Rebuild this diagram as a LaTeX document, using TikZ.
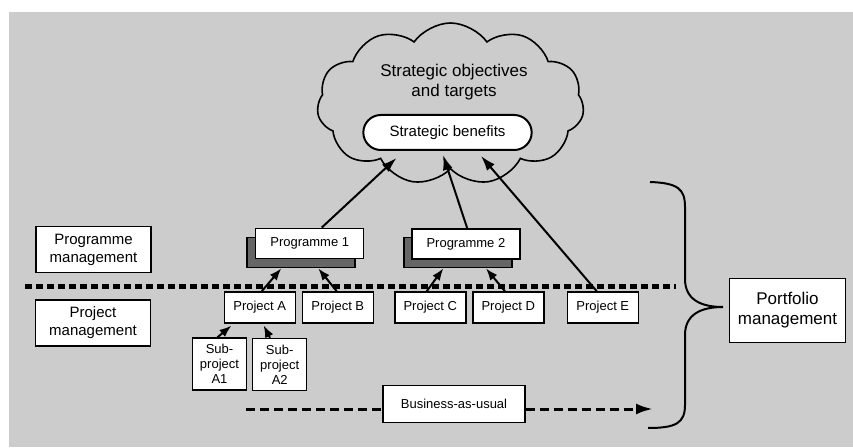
\documentclass[tikz,border=0pt]{standalone}
\usepackage{fontspec}
\setmainfont{Liberation Sans}
\usetikzlibrary{calc,shapes.symbols,shapes.misc,arrows.meta}

\definecolor{bggray}{HTML}{CCCCCC}
\definecolor{shadowgray}{HTML}{666666}

\tikzset{
  box/.style={draw,fill=white,line width=1.4pt,font=\fontsize{13}{15}\selectfont,align=center,inner sep=0pt},
  projbox/.style={box,minimum width=71pt,minimum height=31pt},
  progbox/.style={box,minimum width=108pt,minimum height=30pt},
  shadowbox/.style={draw,fill=shadowgray,line width=1.8pt,minimum width=108pt,minimum height=30pt,inner sep=0pt},
  subbox/.style={box,minimum width=54pt,minimum height=52pt},
  mgmtbox/.style={box,font=\fontsize{15}{18}\selectfont,minimum width=115pt,minimum height=46pt},
  link/.style={line width=2pt,-{Latex[length=12pt,width=9pt]}},
  goal/.style={line width=2pt,-{Latex[length=15pt,width=10pt]}},
  flow/.style={line width=3pt,dash pattern=on 9pt off 5pt},
}

\begin{document}
\begin{tikzpicture}[x=1pt,y=1pt]
  \useasboundingbox (0,0) rectangle (853,447);
  \fill[bggray] (9,0) rectangle (853,435);

  \node[draw,cloud,cloud puffs=11,cloud puff arc=110,minimum width=267pt,minimum height=162pt,line width=1.6pt] (cloud) at (450.5,343) {};
  \node[font=\fontsize{17}{20}\selectfont,align=center] (objectives) at (454,365) {Strategic objectives\\and targets};
  \node[draw,fill=white,rounded rectangle,line width=2pt,minimum width=175pt,minimum height=35pt,font=\fontsize{15}{18}\selectfont] (benefits) at (447.5,314.5) {Strategic benefits};

  \coordinate (divleft) at (25,160);
  \coordinate (divright) at (676,160);
  \draw[line width=5pt,dash pattern=on 7pt off 4pt] (divleft) -- (divright);

  \node[mgmtbox] (progmgmt) at (93.5,197.5) {Programme\\management};
  \node[mgmtbox] (projmgmt) at (93,124) {Project\\management};

  \node[shadowbox] (prog1shadow) at (301.3,194.5) {};
  \node[progbox] (prog1) at (309.7,203.7) {Programme 1};
  \node[shadowbox] (prog2shadow) at (458,194.5) {};
  \node[progbox] (prog2) at (465.9,202.8) {Programme 2};

  \node[projbox] (projA) at (259.7,139.5) {Project A};
  \node[projbox] (projB) at (337.8,139.5) {Project B};
  \node[projbox] (projC) at (430.3,139.5) {Project C};
  \node[projbox] (projD) at (508.3,139.5) {Project D};
  \node[projbox] (projE) at (602.8,139.5) {Project E};

  \node[subbox] (subA1) at (219.5,83) {Sub-\\project\\A1};
  \node[subbox] (subA2) at (279.7,82.5) {Sub-\\project\\A2};

  \node[box,minimum width=142pt,minimum height=37pt] (bau) at (454,43) {Business-as-usual};
  \coordinate (baustart) at (246,38);
  \coordinate (bauend) at (653,38);
  \draw[flow] (baustart) -- (baustart -| bau.west);
  \draw[flow,-{Latex[length=17pt,width=11pt]}] (bauend -| bau.east) -- (bauend);

  \node[box,font=\fontsize{17}{20}\selectfont,minimum width=116pt,minimum height=64pt] (portfolio) at (787.5,136.7) {Portfolio\\management};

  \draw[link] ([xshift=2pt]projA.north) -- ([xshift=-20pt]prog1shadow.south);
  \draw[link] ([xshift=-1pt]projB.north) -- ([xshift=17pt]prog1shadow.south);
  \draw[link] ([xshift=-3.6pt]projC.north) -- ([xshift=-14.7pt]prog2shadow.south);
  \draw[link] ([xshift=-3.3pt]projD.north) -- ([xshift=28pt]prog2shadow.south);
  \draw[link,shorten >=3pt] ([xshift=-2pt]subA1.north) -- ([xshift=-26pt]projA.south);
  \draw[link,shorten >=2pt] ([xshift=-9.7pt]subA2.north) -- ([xshift=3pt]projA.south);

  \draw[goal] ([xshift=12pt]prog1.north) -- ([shift={(-51,-7)}]benefits.south);
  \draw[goal] ([xshift=1.4pt]prog2.north) -- ([shift={(-4.5,-4)}]benefits.south);
  \draw[goal] ([xshift=-6pt]projE.north) -- ([shift={(33.5,-5)}]benefits.south);

  \draw[line width=2pt] (650,265) .. controls (678,264) and (685,258) .. (685,240) -- (685,168)
    .. controls (685,148) and (700,140) .. (723,140)
    .. controls (700,140) and (685,132) .. (685,112) -- (685,42)
    .. controls (685,24) and (676,19) .. (648,19);
\end{tikzpicture}
\end{document}
